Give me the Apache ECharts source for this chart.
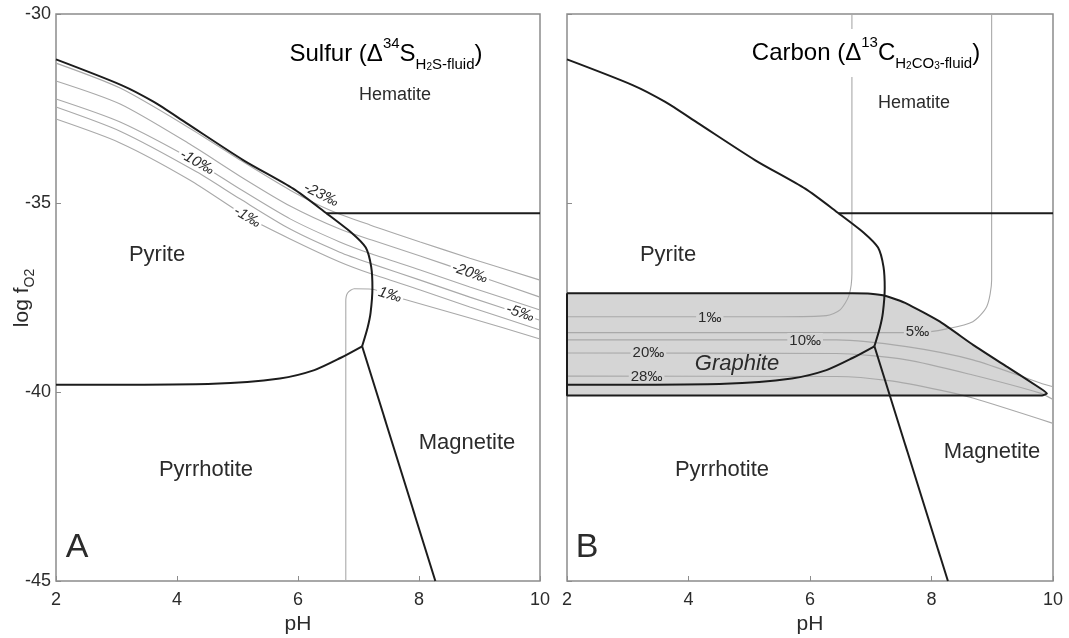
<!DOCTYPE html>
<html><head><meta charset="utf-8">
<script src="https://cdn.jsdelivr.net/npm/echarts@6/dist/echarts.min.js"></script>
<style>html,body{margin:0;padding:0;background:#fff}#c{width:1069px;height:638px}</style>
</head><body><div id="c"></div>
<script>
// ---- axes ----
const phTicks = [2, 4, 6, 8, 10];
const logfTicks = [-45, -40, -35, -30];

// ---- phase boundaries [pH, log fO2] (same in both panels) ----
const pyriteHematite = [[2.0,-31.2],[3.08,-31.88],[3.61,-32.32],[4.15,-32.88],[5.1,-33.87],[5.92,-34.62],[6.47,-35.27],[6.88,-35.78],[7.12,-36.18],[7.21,-36.69],[7.23,-37.25],[7.2,-37.9],[7.15,-38.3],[7.06,-38.79]];
const hematiteMagnetite = [[6.47,-35.27],[10,-35.27]];
const pyritePyrrhotite = [[2,-39.81],[4.6,-39.78],[5.7,-39.64],[6.27,-39.42],[6.7,-39.1],[7.06,-38.79]];
const magnetitePyrrhotite = [[7.06,-38.79],[8.27,-45]];

// ---- panel A: sulfur isotope contours ----
const sMinus23 = [[2,-31.30],[3.06,-31.96],[4.21,-33.02],[5.04,-33.86],[5.87,-34.66],[6.53,-35.19],[7.19,-35.58],[8.02,-36.03],[8.84,-36.46],[10,-37.04]];
const sMinus20 = [[2,-31.77],[3.06,-32.38],[4.21,-33.44],[5.04,-34.29],[5.87,-35.08],[6.69,-35.69],[7.22,-35.98],[8.02,-36.40],[8.84,-36.85],[10,-37.49]];
const sMinus10 = [[2,-32.25],[3.06,-32.86],[4.33,-33.92],[5.04,-34.63],[5.87,-35.42],[6.69,-36.03],[7.22,-36.35],[8.02,-36.77],[8.84,-37.22],[10,-37.83]];
const sMinus5  = [[2,-32.46],[3.06,-33.10],[4.33,-34.18],[5.04,-34.89],[5.87,-35.69],[6.69,-36.30],[7.22,-36.61],[8.02,-37.04],[8.84,-37.49],[10,-38.10]];
const sMinus1  = [[2,-32.78],[3.06,-33.41],[4.21,-34.39],[5.16,-35.37],[5.87,-35.95],[6.69,-36.56],[7.22,-36.88],[8.02,-37.30],[8.84,-37.75],[10,-38.36]];
const sPlus1   = [[6.79,-45],[6.79,-37.6],[6.82,-37.38],[6.93,-37.27],[7.22,-37.28],[7.52,-37.42],[7.74,-37.54],[8.84,-38.04],[10,-38.6]];
const sLabelText = ['-23‰','-20‰','-10‰','-5‰','-1‰','1‰'];
const sLabelAt = [[6.38,-34.78],[8.84,-36.85],[4.33,-33.92],[9.67,-37.91],[5.16,-35.37],[7.52,-37.43]];

// ---- panel B: carbon isotope contours & graphite field ----
const graphiteField = [[2,-37.39],[6.7,-37.39],[7.0,-37.4],[7.25,-37.46],[7.59,-37.66],[8.14,-38.14],[8.69,-38.76],[9.24,-39.33],[9.79,-39.9],[9.9,-40.04],[9.82,-40.09],[2,-40.09]];
const cPlus1  = [[6.69,-30],[6.69,-36.86],[6.64,-37.45],[6.5,-37.82],[6.27,-37.98],[5.5,-38.01],[2,-38.01]];
const cPlus5  = [[8.99,-30],[8.99,-37.04],[8.91,-37.74],[8.68,-38.14],[8.25,-38.33],[7.8,-38.43],[2,-38.43]];
const cPlus10 = [[2,-38.62],[6.44,-38.62],[7.59,-38.8],[8.68,-39.15],[9.79,-39.76],[10,-39.86]];
const cPlus20 = [[2,-38.97],[6.44,-38.98],[7.59,-39.15],[8.68,-39.55],[9.79,-40.03],[10,-40.2]];
const cPlus28 = [[2,-39.58],[6.44,-39.59],[7.3,-39.7],[8.14,-39.95],[8.68,-40.16],[10,-40.83]];
const cLabelText = ['1‰','5‰','10‰','20‰','28‰'];
const cLabelAt = [[4.35,-38.03],[7.77,-38.42],[5.92,-38.64],[3.34,-38.96],[3.31,-39.59]];

// ---- styling ----
const FONT = '"Liberation Sans", Arial, sans-serif';
const TXT = '#2b2b2b';
const BLACK = '#1c1c1c';
const GRAY = '#a9a9a9';
const FRAME = '#8c8c8c';
const FILL = '#d5d5d5';

function line(data, gi, color, width, z, smooth) {
  return { type: 'line', xAxisIndex: gi, yAxisIndex: gi, data: data, symbol: 'none', showSymbol: false,
    smooth: smooth === undefined ? 0.25 : smooth, lineStyle: { color: color, width: width }, z: z, silent: true, clip: true };
}
function labels(texts, at, gi, rots, bg, italic) {
  return { type: 'scatter', xAxisIndex: gi, yAxisIndex: gi, symbolSize: 1, itemStyle: { color: 'rgba(0,0,0,0)' }, z: 3, silent: true,
    data: at.map((p, i) => ({ value: p, label: { show: true, position: 'inside', formatter: texts[i], rotate: rots[i], opacity: 1,
      fontSize: 15, fontStyle: italic ? 'italic' : 'normal', fontFamily: FONT, color: TXT, backgroundColor: bg, padding: [0, 2] } })) };
}
function xAxis(gi) {
  return { gridIndex: gi, type: 'value', min: 2, max: 10, interval: 2,
    axisLine: { show: false }, splitLine: { show: false },
    axisTick: { show: true, inside: true, length: 5, lineStyle: { color: FRAME, width: 1 } },
    axisLabel: { fontSize: 18, fontFamily: FONT, color: TXT, margin: 10,
      formatter: v => phTicks.includes(v) ? String(v) : '' },
    name: 'pH', nameLocation: 'middle', nameGap: 31, nameTextStyle: { fontSize: 21, fontFamily: FONT, color: TXT } };
}
function yAxis(gi, showLabels) {
  return { gridIndex: gi, type: 'value', min: -45, max: -30, interval: 5,
    axisLine: { show: false }, splitLine: { show: false },
    axisTick: { show: true, inside: true, length: 5, lineStyle: { color: FRAME, width: 1 } },
    axisLabel: { show: showLabels, fontSize: 18, fontFamily: FONT, color: TXT, margin: 5,
      formatter: v => logfTicks.includes(v) ? String(v) : '' } };
}
const titleRich = {
  m: { fontSize: 24, fontFamily: FONT, color: TXT, lineHeight: 36 },
  sup: { fontSize: 15, fontFamily: FONT, color: TXT, verticalAlign: 'top', lineHeight: 22 },
  sub: { fontSize: 15, fontFamily: FONT, color: TXT, verticalAlign: 'bottom', lineHeight: 15 },
  ss: { fontSize: 10, fontFamily: FONT, color: TXT, verticalAlign: 'bottom', lineHeight: 10 }
};
function txt(x, y, text, size, extra) {
  return Object.assign({ type: 'text', x: x, y: y, z: 10, silent: true,
    style: { text: text, fontSize: size, fontFamily: FONT, fill: TXT, align: 'center', verticalAlign: 'middle' } }, extra || {});
}

const series = [];
// panel B graphite fill
series.push({ type: 'custom', xAxisIndex: 1, yAxisIndex: 1, data: graphiteField, z: 1, silent: true,
  renderItem: function (params, api) {
    if (params.dataIndex !== 0) return null;
    return { type: 'polygon', shape: { points: graphiteField.map(p => api.coord(p)) }, style: { fill: FILL, stroke: null } };
  } });
// contours
[sMinus23, sMinus20, sMinus10, sMinus5, sMinus1, sPlus1].forEach(d => series.push(line(d, 0, GRAY, 1.1, 2)));
[cPlus1, cPlus5, cPlus10, cPlus20, cPlus28].forEach(d => series.push(line(d, 1, GRAY, 1.1, 2)));
// graphite border
series.push(line(graphiteField.concat([graphiteField[0]]), 1, BLACK, 2, 4, 0.15));
// phase boundaries, both panels
[0, 1].forEach(gi => {
  [pyriteHematite, hematiteMagnetite, pyritePyrrhotite, magnetitePyrrhotite].forEach(d => series.push(line(d, gi, BLACK, 2, 4)));
});
// contour labels
series.push(labels(sLabelText, sLabelAt, 0, [-26, -19, -29, -18, -30, -16], '#fff', true));
series.push(labels(cLabelText, cLabelAt, 1, [0, 0, 0, 0, 0], FILL, false));

const chart = echarts.init(document.getElementById('c'), null, { renderer: 'canvas' });
chart.setOption({
  animation: false,
  backgroundColor: '#fff',
  grid: [
    { left: 56, top: 14, width: 484, height: 567, show: true, borderColor: FRAME, borderWidth: 1.5, backgroundColor: 'transparent', outerBoundsMode: 'none' },
    { left: 567, top: 14, width: 486, height: 567, show: true, borderColor: FRAME, borderWidth: 1.5, backgroundColor: 'transparent', outerBoundsMode: 'none' }
  ],
  xAxis: [xAxis(0), xAxis(1)],
  yAxis: [yAxis(0, true), yAxis(1, false)],
  series: series,
  graphic: [
    txt(22, 298, '', 21, { rotation: Math.PI / 2,
      style: { text: 'log f{s|O2}', fontSize: 21, fontFamily: FONT, fill: TXT, align: 'center', verticalAlign: 'middle',
        rich: { s: { fontSize: 14, fontFamily: FONT, fill: TXT, verticalAlign: 'bottom', lineHeight: 14 } }, lineHeight: 30 } }),
    // panel A
    txt(386, 54, '', 24, { style: { text: '{m|Sulfur (Δ}{sup|34}{m|S}{sub|H}{ss|2}{sub|S-fluid}{m|)}', rich: titleRich, align: 'center', verticalAlign: 'middle', backgroundColor: '#fff', padding: [6, 10] } }),
    txt(395, 95, 'Hematite', 18),
    txt(157, 255, 'Pyrite', 22),
    txt(206, 470, 'Pyrrhotite', 22),
    txt(467, 443, 'Magnetite', 22),
    txt(77, 548, 'A', 34),
    // panel B
    txt(866, 53, '', 24, { style: { text: '{m|Carbon (Δ}{sup|13}{m|C}{sub|H}{ss|2}{sub|CO}{ss|3}{sub|-fluid}{m|)}', rich: titleRich, align: 'center', verticalAlign: 'middle', backgroundColor: '#fff', padding: [6, 10] } }),
    txt(914, 103, 'Hematite', 18),
    txt(668, 255, 'Pyrite', 22),
    txt(737, 364, '', 22, { style: { text: 'Graphite', fontSize: 22, fontStyle: 'italic', fontFamily: FONT, fill: TXT, align: 'center', verticalAlign: 'middle' } }),
    txt(722, 470, 'Pyrrhotite', 22),
    txt(992, 452, 'Magnetite', 22),
    txt(587, 548, 'B', 34)
  ]
});
</script></body></html>
